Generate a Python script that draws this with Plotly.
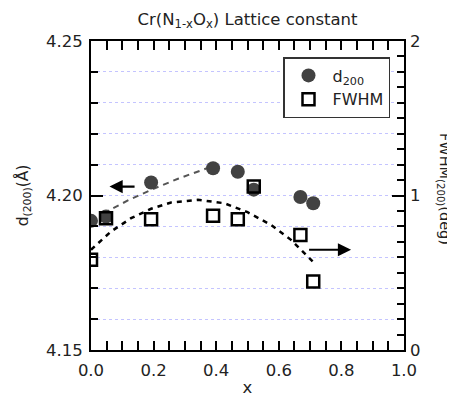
import plotly.graph_objects as go

# Data
x_vals = [0.0, 0.048, 0.192, 0.39, 0.469, 0.52, 0.669, 0.71]
d200 = [4.1918, 4.1932, 4.2042, 4.2088, 4.2077, 4.2019, 4.1995, 4.1975]
fwhm = [0.584, 0.853, 0.847, 0.869, 0.847, 1.058, 0.745, 0.443]

# Guide / fit curves
d_fit_x = [0.04, 0.12, 0.2, 0.28, 0.37]
d_fit_y = [4.1943, 4.1985, 4.2022, 4.2055, 4.2088]
f_fit_x = [0.0, 0.064, 0.128, 0.192, 0.256, 0.341, 0.426, 0.5, 0.575, 0.639, 0.708]
f_fit_y = [0.649, 0.767, 0.853, 0.914, 0.955, 0.972, 0.95, 0.892, 0.81, 0.713, 0.573]

FONT = "DejaVu Sans"
FS = 16.5
# page body has ~8px default margin; compensate so the plot lands where the reference has it
OFF = 7
W, H = 455 - OFF, 396 - OFF
L, T = 90 - OFF, 40 - OFF
PW, PH = 313, 309

fig = go.Figure()

fig.add_trace(go.Scatter(x=d_fit_x, y=d_fit_y, mode="lines", showlegend=False,
                         line=dict(color="#555555", width=2, dash="6px,5px")))
fig.add_trace(go.Scatter(x=f_fit_x, y=f_fit_y, mode="lines", showlegend=False, yaxis="y2",
                         line=dict(color="black", width=2.5, dash="5px,5px")))
fig.add_trace(go.Scatter(x=x_vals, y=fwhm, mode="markers", name="FWHM", yaxis="y2",
                         legendrank=2,
                         marker=dict(symbol="square-open", size=12, color="black",
                                     line=dict(width=2.5, color="black"))))
fig.add_trace(go.Scatter(x=x_vals, y=d200, mode="markers", name="d<sub>200</sub>",
                         legendrank=1,
                         marker=dict(symbol="circle", size=14, color="#424242")))

fig.add_annotation(x=0.059, y=4.2029, ax=0.144, ay=4.2029, xref="x", yref="y",
                   axref="x", ayref="y", showarrow=True, arrowhead=2, arrowsize=1.2,
                   arrowwidth=2.2, arrowcolor="black", text="")
fig.add_annotation(x=0.831, y=0.649, ax=0.692, ay=0.649, xref="x", yref="y2",
                   axref="x", ayref="y2", showarrow=True, arrowhead=2, arrowsize=1.2,
                   arrowwidth=2.2, arrowcolor="black", text="")

fig.add_annotation(text="FWHM<sub>(200)</sub>(deg)", xref="paper", yref="paper",
                   x=1.0 + (443 - 403) / PW, y=(349 - 188) / PH, textangle=90,
                   showarrow=False, font=dict(family=FONT, size=14.5, color="#222222"),
                   xanchor="center", yanchor="middle")

fig.update_layout(
    width=W, height=H,
    margin=dict(l=L, r=W - L - PW, t=T, b=H - T - PH, autoexpand=False),
    paper_bgcolor="white", plot_bgcolor="white",
    font=dict(family=FONT, size=FS, color="#222222"),
    title=dict(text="Cr(N<sub>1-x</sub>O<sub>x</sub>) Lattice constant", x=0.5, xref="paper",
               y=1 - (18 - OFF) / H, yref="container", xanchor="center", yanchor="middle",
               font=dict(family=FONT, size=16.5, color="#222222"), automargin=False),
    xaxis=dict(range=[0, 1], dtick=0.2, tickformat=".1f", ticks="inside", ticklen=9,
               tickwidth=2, tickcolor="black", showline=True, linewidth=2, linecolor="black",
               mirror="allticks", showgrid=False, zeroline=False, automargin=False,
               ticklabelstandoff=4,
               minor=dict(dtick=0.05, ticks="inside", ticklen=5, tickwidth=1.5, tickcolor="black"),
               title=dict(text="x", standoff=13, font=dict(size=FS))),
    yaxis=dict(range=[4.15, 4.25], dtick=0.05, tickformat=".2f", ticks="inside", ticklen=12,
               tickwidth=2, tickcolor="black", showline=True, linewidth=2, linecolor="black",
               mirror=True, zeroline=False, showgrid=True, gridcolor="#c4c4ff",
               griddash="dot", gridwidth=1, automargin=False, ticklabelstandoff=3,
               minor=dict(dtick=0.01, ticks="inside", ticklen=7, tickwidth=1.5,
                          tickcolor="black", showgrid=True, gridcolor="#c4c4ff",
                          griddash="dot", gridwidth=1),
               title=dict(text="d<sub>(200)</sub>(Å)", standoff=14,
                          font=dict(size=15.5))),
    yaxis2=dict(range=[0, 2], dtick=1, overlaying="y", side="right", ticks="inside",
                ticklen=12, tickwidth=2, tickcolor="black", showline=False,
                showgrid=False, zeroline=False, automargin=False, ticklabelstandoff=5,
                minor=dict(dtick=0.1, ticks="inside", ticklen=7, tickwidth=1.5,
                           tickcolor="black")),
    legend=dict(x=(282 - 90) / PW, y=(349 - 56) / PH, xanchor="left", yanchor="top",
                bordercolor="#333333", borderwidth=1.5, bgcolor="white",
                traceorder="normal",
                font=dict(family=FONT, size=16, color="#222222"),
                itemwidth=38),
)

fig.write_html("out.html")
